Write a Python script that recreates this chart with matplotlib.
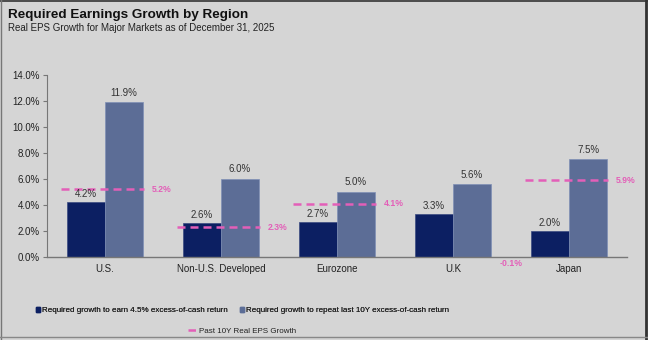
import matplotlib
matplotlib.use("Agg")
import matplotlib.pyplot as plt
from matplotlib.patches import Patch
from matplotlib.lines import Line2D
import numpy as np

plt.rcParams['font.family'] = ['Liberation Sans', 'DejaVu Sans']

categories = ["U.S.", "Non-U.S. Developed", "Eurozone", "U.K", "Japan"]
req_45 = [4.2, 2.6, 2.7, 3.3, 2.0]
req_10y = [11.9, 6.0, 5.0, 5.6, 7.5]
past_10y = [5.2, 2.3, 4.1, -0.1, 5.9]
yticks = [0, 2, 4, 6, 8, 10, 12, 14]

c_dark = "#0c1f62"
c_light = "#5c6d96"
c_pink = "#e35fb8"
bg = "#d5d5d5"

fig = plt.figure(figsize=(6.48, 3.40), dpi=100, facecolor=bg)
ax = fig.add_axes([0.0725, 0.244, 0.895, 0.536], facecolor=bg)

x = np.arange(len(categories))
w = 0.33
ax.bar(x - w/2, req_45, w, color=c_dark, edgecolor="#3a4a80", linewidth=0.5)
ax.bar(x + w/2, req_10y, w, color=c_light, edgecolor="#7f8fb5", linewidth=0.5)

for xi, v in zip(x, req_45):
    ax.text(xi - w/2, v + 0.25, f"{v:.1f}%", ha="center", va="bottom", fontsize=7, color="#333333")
for xi, v in zip(x, req_10y):
    ax.text(xi + w/2, v + 0.35, f"{v:.1f}%", ha="center", va="bottom", fontsize=7, color="#333333")

for xi, v in zip(x, past_10y):
    ax.plot([xi - 0.38, xi + 0.34], [v, v], color=c_pink, linestyle=(0, (3.2, 2.0)), linewidth=1.8)
    yoff = -0.4 if v < 0 else 0.0
    ax.text(xi + 0.40, v + yoff, f"{v:.1f}%", ha="left", va="center", fontsize=6.2,
            color=c_pink, fontweight="bold")

ax.set_xlim(-0.5, 4.5)
ax.set_ylim(0, 14)
ax.set_yticks(yticks)
ax.set_yticklabels([f"{t:.1f}%" for t in yticks], fontsize=7, color="#222222")
ax.set_xticks(x)
ax.set_xticklabels(categories, fontsize=7, color="#222222")
ax.tick_params(axis="x", length=0, pad=5)
ax.tick_params(axis="y", length=3, width=0.8, color="#777777", pad=2)
for s in ["top", "right"]:
    ax.spines[s].set_visible(False)
ax.spines["left"].set_color("#777777")
ax.spines["bottom"].set_color("#777777")
ax.spines["bottom"].set_linewidth(1.0)

fig.text(0.012, 0.955, "Required Earnings Growth by Region", fontsize=9.7, fontweight="bold",
         color="#111111", va="center")
fig.text(0.012, 0.917, "Real EPS Growth for Major Markets as of December 31, 2025", fontsize=7,
         color="#222222", va="center")

h1 = [Patch(facecolor=c_dark, edgecolor=c_dark),
      Patch(facecolor=c_light, edgecolor=c_light)]
l1 = ["Required growth to earn 4.5% excess-of-cash return",
      "Required growth to repeat last 10Y excess-of-cash return"]
leg1 = fig.legend(h1, l1, loc="center", bbox_to_anchor=(0.374, 0.086), ncol=2, frameon=False,
                  prop={'size': 5.8}, handlelength=0.5, handleheight=0.5,
                  handletextpad=0.25, columnspacing=1.5, labelcolor="#222222")
fig.add_artist(leg1)
h2 = [Line2D([0], [0], color=c_pink, linestyle=(0, (3, 2)), linewidth=1.8)]
fig.legend(h2, ["Past 10Y Real EPS Growth"], loc="center", bbox_to_anchor=(0.374, 0.027),
           frameon=False, prop={'size': 5.8}, handlelength=1.1, handletextpad=0.3,
           labelcolor="#222222")

# figure frame
tf = fig.transFigure
fig.add_artist(Line2D([0, 1], [0.998, 0.998], transform=tf, color="#333333", linewidth=1.2))
fig.add_artist(Line2D([0.997, 0.997], [0, 1], transform=tf, color="#333333", linewidth=2.0))
fig.add_artist(Line2D([0.001, 0.001], [0, 1], transform=tf, color="#777777", linewidth=1.0))
fig.add_artist(Line2D([0, 1], [0.008, 0.008], transform=tf, color="#888888", linewidth=1.0))

fig.savefig("out.png", dpi=100, facecolor=bg)
